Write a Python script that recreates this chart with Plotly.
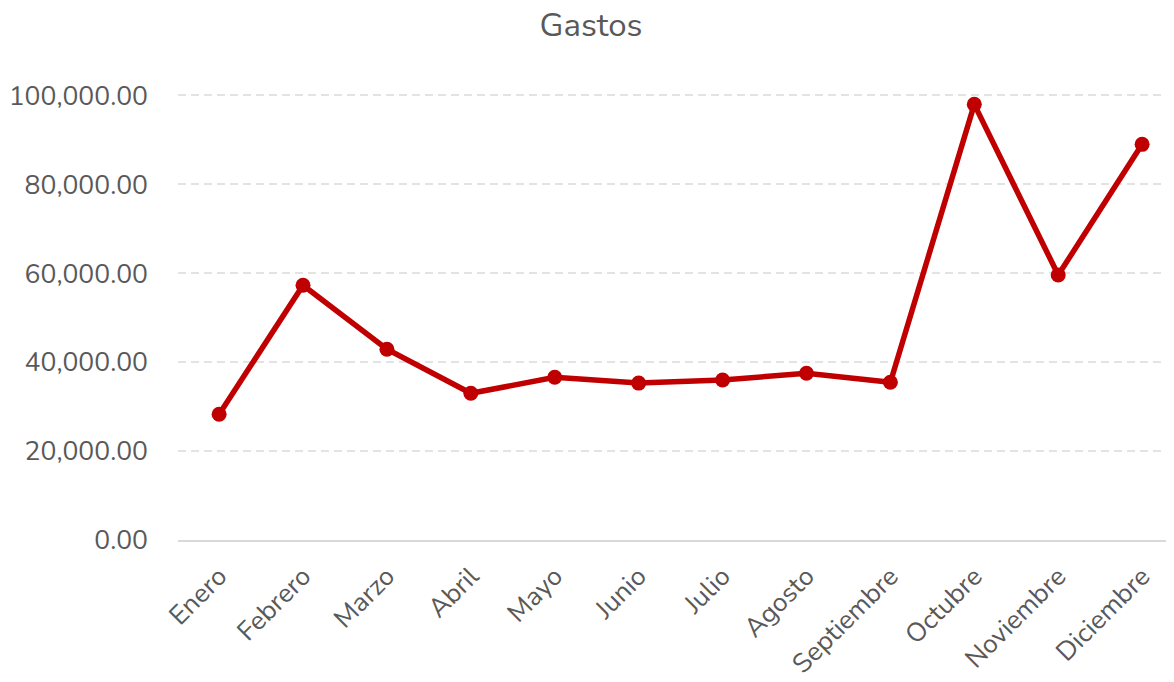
import plotly.graph_objects as go

meses = ["Enero", "Febrero", "Marzo", "Abril", "Mayo", "Junio", "Julio",
         "Agosto", "Septiembre", "Octubre", "Noviembre", "Diciembre"]
gastos = [28300, 57300, 42900, 33000, 36600, 35300, 36000, 37500, 35500, 98000, 59600, 89000]
y_ticks = [0, 20000, 40000, 60000, 80000, 100000]

FONT = "Nunito, Lato, 'Open Sans', sans-serif"
GREY = "#595959"

fig = go.Figure()
fig.add_trace(go.Scatter(
    x=meses, y=gastos, mode="lines+markers",
    line=dict(color="#c00000", width=5.5),
    marker=dict(color="#c00000", size=15),
    hoverinfo="skip", showlegend=False,
))

fig.update_layout(
    width=1166, height=674,
    margin=dict(l=170, r=0, t=43, b=142),
    paper_bgcolor="white", plot_bgcolor="white",
    font=dict(family=FONT, color=GREY, size=26.5),
    title=dict(text="Gastos", x=0.5, xref="container", y=0.975, yref="container",
               xanchor="center", yanchor="middle",
               font=dict(family=FONT, size=33, color=GREY)),
    xaxis=dict(
        type="category", range=[-0.49, 11.38],
        tickangle=-45, showgrid=False, zeroline=False,
        showline=True, linecolor="#d9d9d9", linewidth=2,
        ticks="", tickfont=dict(size=26.5, color=GREY),
        ticklabelstandoff=8,
    ),
    yaxis=dict(
        range=[0, 110000], tickvals=y_ticks, tickformat=",.2f",
        showgrid=True, gridcolor="#e3e3e3", gridwidth=2, griddash="8px,5px",
        zeroline=False, showline=False, ticks="",
        tickfont=dict(size=26.5, color=GREY),
        ticklabelstandoff=29,
    ),
)

fig.write_html("out.html")
